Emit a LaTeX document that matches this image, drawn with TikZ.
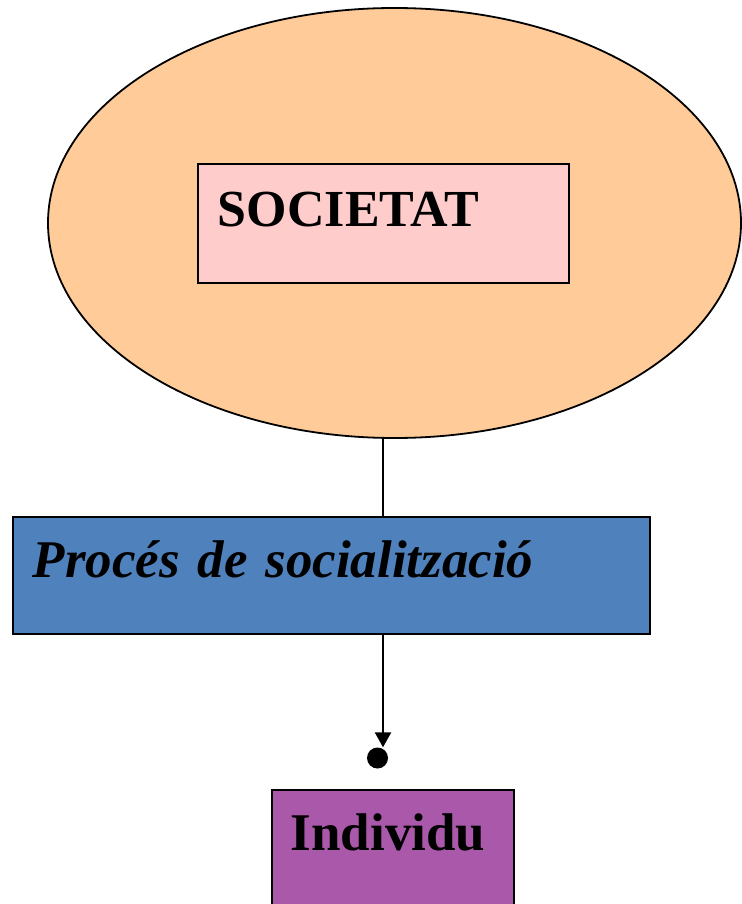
\documentclass[tikz,border=0pt]{standalone}
\usepackage{fontspec}
\setmainfont{Liberation Serif}
\usetikzlibrary{shapes.geometric,arrows.meta,calc}
\definecolor{ovalfill}{RGB}{255,204,153}
\definecolor{socfill}{RGB}{255,204,204}
\definecolor{procfill}{RGB}{79,129,189}
\definecolor{indfill}{RGB}{170,89,170}
\newcommand{\bigbold}{\fontsize{53}{60}\selectfont\bfseries}

\begin{document}
\begin{tikzpicture}[x=1pt, y=-1pt,
	box/.style={draw, line width=1.8pt, inner xsep=20pt, inner ysep=0pt, align=left, anchor=north west},
	wire/.style={line width=2.4pt}]
	\useasboundingbox (0,0) rectangle (741,904);

	% the society
	\node[ellipse, draw, fill=ovalfill, line width=1.8pt, inner sep=0pt,
		minimum width=693pt, minimum height=430pt] (oval) at (394.5,223) {};
	\node[box, fill=socfill, text width=331pt, text height=63pt, text depth=56pt,
		font=\fontsize{52}{60}\selectfont\bfseries] (soc) at (197,163) {SOCIETAT};

	% the process
	\node[box, fill=procfill, text width=597pt, text height=61pt, text depth=56pt,
		font=\bigbold\itshape] (proc) at (12,516) {Procés de socialització};

	% the individual
	\node[box, fill=indfill, inner xsep=19pt, text width=204pt, text height=61pt, text depth=200pt,
		font=\bigbold] (ind) at (271,789) {Individu};

	\coordinate (stem) at (383,438);
	\node[circle, fill, minimum size=21pt, inner sep=0pt] (dot) at (377.5,758) {};
	\draw[wire] (stem) -- (stem |- proc.north);
	\draw[wire, -{Triangle[width=16pt,length=15pt]}] (stem |- proc.south) -- (stem |- dot.north);
\end{tikzpicture}
\end{document}
